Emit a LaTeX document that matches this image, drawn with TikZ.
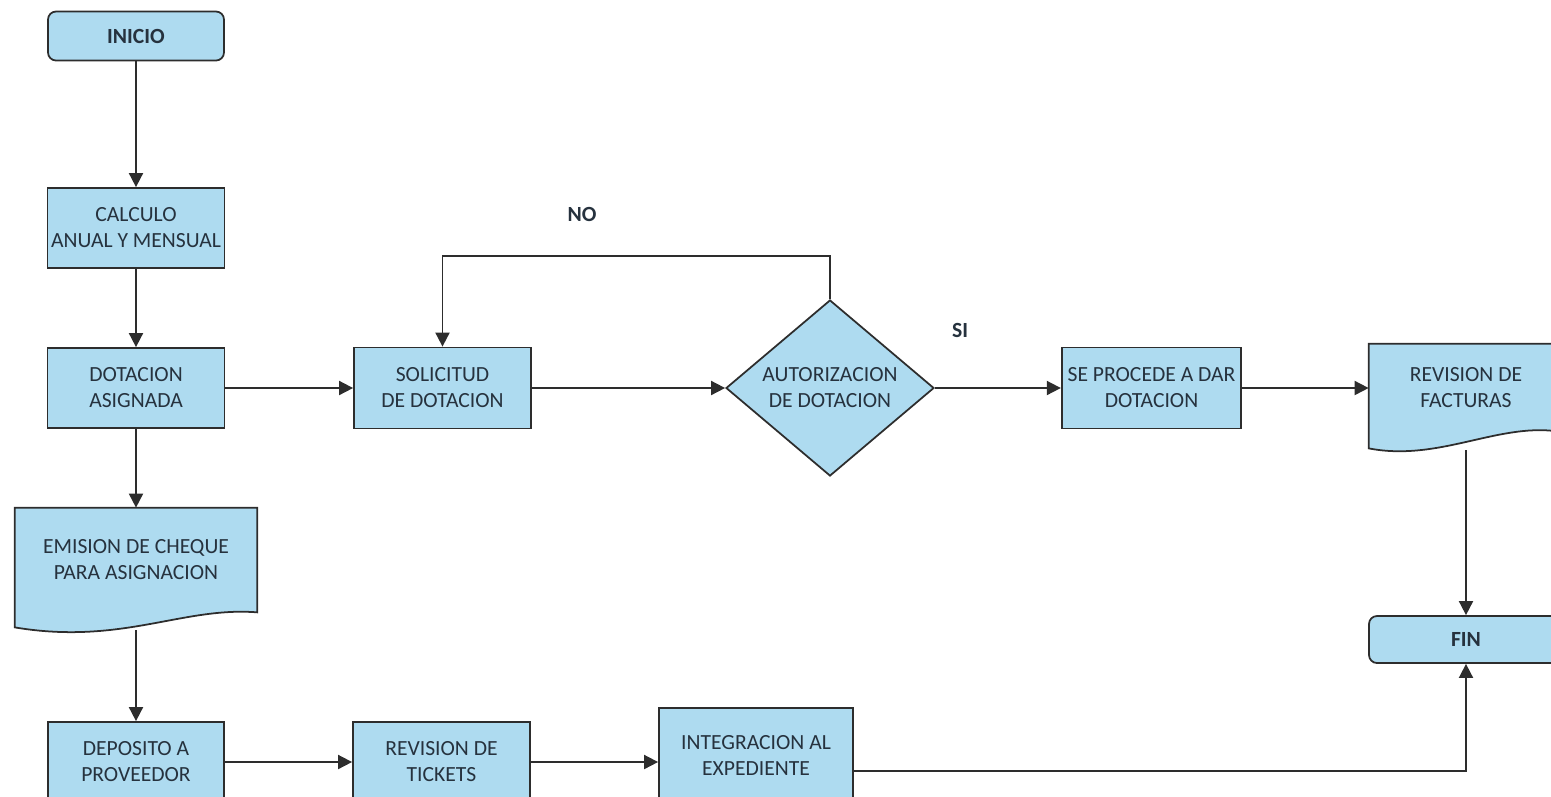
\documentclass[tikz,border=0pt]{standalone}
\usepackage{fontspec}
\setmainfont{Carlito}
\usetikzlibrary{positioning}
\usetikzlibrary{shapes.geometric}
\usetikzlibrary{arrows.meta}
\usetikzlibrary{calc, backgrounds}
\definecolor{boxblue}{RGB}{174,219,240}
\definecolor{linegray}{RGB}{45,45,45}
\definecolor{textgray}{RGB}{38,50,62}

\begin{document}
\begin{tikzpicture}[node distance=2cm, >={Triangle[length=8pt,width=8pt]},
    every node/.style={font=\fontsize{12.3}{14.8}\selectfont, text=textgray, align=center},
    procbox/.style={draw=linegray, fill=boxblue, line width=1pt, rectangle, minimum width=3.54cm, minimum height=1.6cm},
    endbox/.style={procbox, rounded corners=0.16cm, minimum width=3.52cm, minimum height=0.98cm, font=\fontsize{12.3}{14.8}\selectfont\bfseries},
    docbox/.style={rectangle, minimum width=4.84cm, minimum height=2.08cm},
    docshape/.style={draw=linegray, fill=boxblue, line width=1pt},
    decision/.style={draw=linegray, fill=boxblue, line width=1pt, diamond, aspect=1.18, minimum width=4.16cm, minimum height=3.52cm, inner sep=1pt},
    lbl/.style={font=\fontsize{12.3}{14.8}\selectfont\bfseries},
    flow/.style={->, draw=linegray, line width=1pt}]
        \useasboundingbox (0,0) rectangle (31.02,-15.92);

        % Left column
        % Start
        \node[endbox] (inicio) at (2.72,-0.72) {INICIO};
        % Yearly and monthly calculation
        \node[procbox, inner xsep=0pt, below of=inicio, yshift=-1.84cm] (calculo) {CALCULO\\ANUAL Y MENSUAL};
        % Assigned allowance
        \node[procbox, below of=calculo, yshift=-1.2cm] (dotacion) {DOTACION\\ASIGNADA};
        % Cheque (document)
        \node[docbox, minimum width=4.84cm, below of=dotacion, yshift=-1.44cm] (emision) {EMISION DE CHEQUE\\PARA ASIGNACION};
        % Deposit
        \node[procbox, minimum width=3.52cm, below of=emision, yshift=-2.04cm] (deposito) {DEPOSITO A\\PROVEEDOR};

        % Bottom row
        \node[procbox, right of=deposito, xshift=4.11cm] (tickets) {REVISION DE\\TICKETS};
        \node[procbox, minimum width=3.88cm, minimum height=1.88cm, right of=tickets, xshift=4.29cm, yshift=0.14cm] (integracion) {INTEGRACION AL\\EXPEDIENTE};

        % Middle row
        \node[procbox, minimum height=1.62cm, right of=dotacion, xshift=4.13cm] (solicitud) {SOLICITUD\\DE DOTACION};
        % Decision
        \node[decision, right of=solicitud, xshift=5.75cm] (autorizacion) {AUTORIZACION\\DE DOTACION};
        \node[procbox, minimum width=3.58cm, minimum height=1.62cm, right of=autorizacion, xshift=4.43cm] (seprocede) {SE PROCEDE A DAR\\DOTACION};
        % Invoices (document)
        \node[docbox, minimum width=3.88cm, minimum height=1.76cm, right of=seprocede, xshift=4.29cm] (facturas) {REVISION DE\\FACTURAS};
        % End
        \node[endbox, minimum width=3.88cm, minimum height=0.94cm, below of=facturas, yshift=-3.03cm] (fin) {FIN};

        % Document outlines with wavy bottom
        \begin{scope}[on background layer]
            \draw[docshape] (emision.north west) -- (emision.north east) -- (emision.south east)
                .. controls ($(emision.south east)+(-1.5,0.12)$) and ($(emision.south west)+(2.14,-0.66)$) .. ($(emision.south west)+(0,-0.3)$) -- cycle;
            \draw[docshape] (facturas.north west) -- (facturas.north east) -- (facturas.south east)
                .. controls ($(facturas.south east)+(-1.24,0.24)$) and ($(facturas.south west)+(1.44,-0.6)$) .. ($(facturas.south west)+(0,-0.32)$) -- cycle;
        \end{scope}

        % Arrows down the left column
        \draw[flow] (inicio) -- (calculo);
        \draw[flow] (calculo) -- (dotacion);
        \draw[flow] (dotacion) -- (emision);
        \draw[flow, shorten <=0.36cm] (emision.south) -- (deposito.north);
        % Arrows along the bottom
        \draw[flow] (deposito) -- (tickets);
        \draw[flow] (tickets.east) -- (tickets.east -| integracion.west);
        \draw[flow] ([yshift=-0.32cm]integracion.east) -| (fin.south);
        % Arrows along the middle
        \draw[flow] (dotacion) -- (solicitud);
        \draw[flow] (solicitud) -- (autorizacion);
        \draw[flow] (autorizacion) -- node[lbl, pos=0.2, yshift=1.16cm] {SI} (seprocede);
        \draw[flow] (autorizacion.north) -- ++(0,0.86) -| node[lbl, pos=0.32, yshift=0.84cm] {NO} (solicitud.north);
        \draw[flow] (seprocede) -- (seprocede -| facturas.west);
        \draw[flow, shorten <=0.36cm] (facturas.south) -- (fin.north);
    \end{tikzpicture}
\end{document}
